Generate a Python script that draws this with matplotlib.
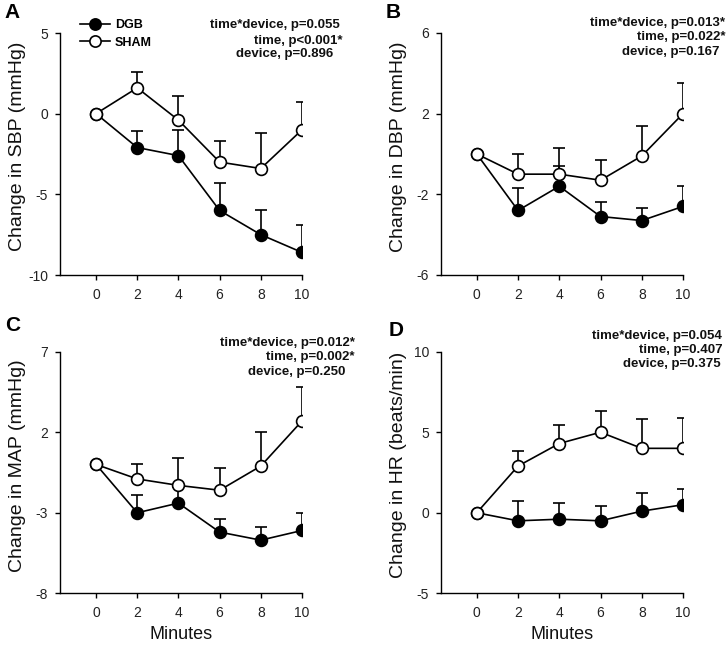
import matplotlib
matplotlib.use("Agg")
import matplotlib.pyplot as plt
import numpy as np

plt.rcParams['font.family'] = ['Liberation Sans', 'DejaVu Sans']
plt.rcParams['axes.unicode_minus'] = False

minutes = [0, 2, 4, 6, 8, 10]

# Panel A: SBP
sbp_dgb = [0, -2.1, -2.6, -6.0, -7.5, -8.6]
sbp_dgb_err = [0, 1.0, 1.6, 1.7, 1.5, 1.7]
sbp_sham = [0, 1.6, -0.4, -3.0, -3.4, -1.0]
sbp_sham_err = [0, 1.0, 1.5, 1.3, 2.2, 1.7]

# Panel B: DBP
dbp_dgb = [0, -2.8, -1.6, -3.1, -3.3, -2.6]
dbp_dgb_err = [0, 1.1, 1.0, 0.7, 0.6, 1.0]
dbp_sham = [0, -1.0, -1.0, -1.3, -0.1, 2.0]
dbp_sham_err = [0, 1.0, 1.3, 1.0, 1.5, 1.5]

# Panel C: MAP
map_dgb = [0, -3.0, -2.4, -4.2, -4.7, -4.1]
map_dgb_err = [0, 1.1, 1.0, 0.8, 0.8, 1.1]
map_sham = [0, -0.9, -1.3, -1.6, -0.1, 2.7]
map_sham_err = [0, 0.9, 1.7, 1.4, 2.1, 2.1]

# Panel D: HR
hr_dgb = [0, -0.5, -0.4, -0.5, 0.1, 0.5]
hr_dgb_err = [0, 1.2, 1.0, 0.9, 1.1, 1.0]
hr_sham = [0, 2.9, 4.3, 5.0, 4.0, 4.0]
hr_sham_err = [0, 0.95, 1.15, 1.3, 1.8, 1.9]

panel_letters = ["A", "B", "C", "D"]
ylabels = ["Change in SBP (mmHg)", "Change in DBP (mmHg)",
           "Change in MAP (mmHg)", "Change in HR (beats/min)"]
yticks_list = [[-10, -5, 0, 5], [-6, -2, 2, 6], [-8, -3, 2, 7], [-5, 0, 5, 10]]
stats_text = [
    ["time*device, p=0.055", "time, p<0.001*", "device, p=0.896"],
    ["time*device, p=0.013*", "time, p=0.022*", "device, p=0.167"],
    ["time*device, p=0.012*", "time, p=0.002*", "device, p=0.250"],
    ["time*device, p=0.054", "time, p=0.407", "device, p=0.375"],
]
legend_labels = ["DGB", "SHAM"]

data = [
    (sbp_dgb, sbp_dgb_err, sbp_sham, sbp_sham_err),
    (dbp_dgb, dbp_dgb_err, dbp_sham, dbp_sham_err),
    (map_dgb, map_dgb_err, map_sham, map_sham_err),
    (hr_dgb, hr_dgb_err, hr_sham, hr_sham_err),
]

W, H = 727, 647
fig = plt.figure(figsize=(W / 100, H / 100), dpi=100)

# axes boxes in pixels: left, top, right, bottom
boxes = [(60, 33, 302, 275), (440.7, 33, 683, 275),
         (60, 351.7, 302, 593.3), (440.7, 351.7, 683, 593.3)]
letter_pos = [(4, 3), (386, 3), (5, 316), (389, 321)]
stat_pos = [
    [(340, 25), (343, 40.7), (333, 54.3)],
    [(725.5, 22.7), (725.5, 36.7), (720, 51.7)],
    [(355, 343.3), (354.3, 357.3), (345, 371.7)],
    [(722, 336), (722.3, 350), (721, 364)],
]

tick_color = '#222222'
axes_list = []
for i, (l, t, r, b) in enumerate(boxes):
    ax = fig.add_axes([l / W, 1 - b / H, (r - l) / W, (b - t) / H])
    axes_list.append(ax)
    dgb, dgb_e, sham, sham_e = data[i]
    x = np.array(minutes)
    # error bars (upper only)
    ax.errorbar(x, dgb, yerr=[np.zeros(len(x)), dgb_e], fmt='none', ecolor='black',
                elinewidth=1.2, capsize=4, capthick=1.2, zorder=2)
    ax.errorbar(x, sham, yerr=[np.zeros(len(x)), sham_e], fmt='none', ecolor='black',
                elinewidth=1.2, capsize=4, capthick=1.2, zorder=2)
    ax.plot(x, dgb, '-', color='black', lw=1.2, marker='o', ms=8.5,
            mfc='black', mec='black', mew=1.2, zorder=4, label=legend_labels[0])
    ax.plot(x, sham, '-', color='black', lw=1.2, marker='o', ms=8.5,
            mfc='white', mec='black', mew=1.2, zorder=5, label=legend_labels[1])

    yt = yticks_list[i]
    ax.set_xlim(-1.75, 10)
    ax.set_ylim(yt[0], yt[-1])
    ax.set_xticks(minutes)
    ax.set_yticks(yt)
    ax.spines['top'].set_visible(False)
    ax.spines['right'].set_visible(False)
    for s in ['left', 'bottom']:
        ax.spines[s].set_linewidth(1.0)
    ax.tick_params(axis='both', direction='out', length=3.5, width=1.0,
                   labelsize=10, colors='black', labelcolor=tick_color)
    ax.tick_params(axis='x', pad=6)
    ax.tick_params(axis='y', pad=5)
    ax.set_ylabel(ylabels[i], fontsize=14, color='#111111')
    ax.yaxis.set_label_coords(-0.14, 0.53)
    if i >= 2:
        ax.set_xlabel("Minutes", fontsize=13, color='#111111')
        ax.xaxis.set_label_coords(0.5, -0.135)

    lx, ly = letter_pos[i]
    fig.text(lx / W, 1 - ly / H, panel_letters[i], fontsize=15, fontweight='bold',
             ha='left', va='top')
    for txt, (sx, sy) in zip(stats_text[i], stat_pos[i]):
        fig.text(sx / W, 1 - sy / H, txt, fontsize=9.5, fontweight='bold',
                 ha='right', va='center', color='#111111')

leg = axes_list[0].legend(loc='upper left', bbox_to_anchor=(80 / W, 1 - 19 / H),
                          bbox_transform=fig.transFigure, frameon=False,
                          borderpad=0, borderaxespad=0, handlelength=2.4,
                          handletextpad=0.4, labelspacing=0.45,
                          prop={'size': 9, 'weight': 'bold'}, markerscale=0.95)

fig.savefig("out.png", dpi=100)
